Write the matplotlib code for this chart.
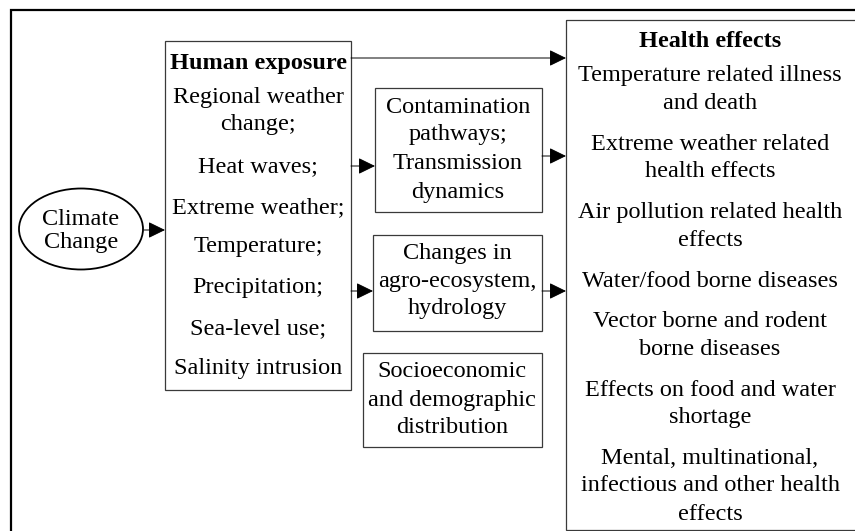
import matplotlib as mpl
import matplotlib.pyplot as plt
from matplotlib.patches import Ellipse, Rectangle

mpl.rcParams['font.family'] = ['Liberation Serif', 'DejaVu Serif']

# diagram text
climate_lines = ['Climate', 'Change']
exposure_title = 'Human exposure'
exposure_lines = ['Regional weather', 'change;', 'Heat waves;', 'Extreme weather;',
                  'Temperature;', 'Precipitation;', 'Sea-level use;', 'Salinity intrusion']
contamination_lines = ['Contamination', 'pathways;', 'Transmission', 'dynamics']
agro_lines = ['Changes in', 'agro-ecosystem,', 'hydrology']
socio_lines = ['Socioeconomic', 'and demographic', 'distribution']
health_title = 'Health effects'
health_lines = ['Temperature related illness', 'and death',
                'Extreme weather related', 'health effects',
                'Air pollution related health', 'effects',
                'Water/food borne diseases',
                'Vector borne and rodent', 'borne diseases',
                'Effects on food and water', 'shortage',
                'Mental, multinational,', 'infectious and other health', 'effects']

# layout (pixel coordinates, y down)
W, H = 855, 531
fs = 17.5
dy = -2  # nudge for the text baseline
box_col = '#3a3a3a'

fig = plt.figure(figsize=(W / 100, H / 100), dpi=100)
ax = fig.add_axes([0, 0, 1, 1])
ax.set_xlim(0, W)
ax.set_ylim(H, 0)
ax.axis('off')

# outer frame (only top and left edges show)
ax.plot([11, 11, W + 5], [H + 5, 10, 10], color='black', lw=1.6, solid_joinstyle='miter')


def box(x0, y0, x1, y1):
    ax.add_patch(Rectangle((x0, y0), x1 - x0, y1 - y0, fill=False,
                           edgecolor=box_col, lw=0.9))


def lines(texts, ys, xc, weight='normal'):
    for t, y in zip(texts, ys):
        ax.text(xc, y + dy, t, ha='center', va='center_baseline', fontsize=fs, weight=weight)


def arrow(x0, x1, y):
    ax.annotate('', xy=(x1, y), xytext=(x0, y),
                arrowprops=dict(arrowstyle='-|>,head_length=0.45,head_width=0.22',
                                mutation_scale=23, color='black', lw=0.7,
                                shrinkA=0, shrinkB=0))


# climate change ellipse
ax.add_patch(Ellipse((81, 229), 124, 81, fill=False, edgecolor='black', lw=1.3))
lines(climate_lines, [219, 242], 81)

# human exposure
box(165, 41, 351, 390)
lines([exposure_title], [63], 258, weight='bold')
lines(exposure_lines, [97, 124, 166, 207, 246, 287, 328, 368], 258)

# middle boxes
box(375, 88, 542, 212)
lines(contamination_lines, [107, 134, 163, 192], 458)
box(373, 235, 542, 331)
lines(agro_lines, [253, 281, 308], 457)
box(363, 353, 542, 447)
lines(socio_lines, [371, 400, 427], 452)

# health effects
box(566, 20, W + 20, 530)
lines([health_title], [41], 710, weight='bold')
lines(health_lines, [75, 103, 144, 171, 212, 240, 281, 321, 349, 390, 417, 458, 485, 514], 710)

# arrows
arrow(144, 165, 230)
arrow(351, 566, 58)
arrow(351, 375, 166)
arrow(542, 566, 156)
arrow(351, 373, 291)
arrow(542, 566, 291)

fig.savefig('out.png', dpi=100)
